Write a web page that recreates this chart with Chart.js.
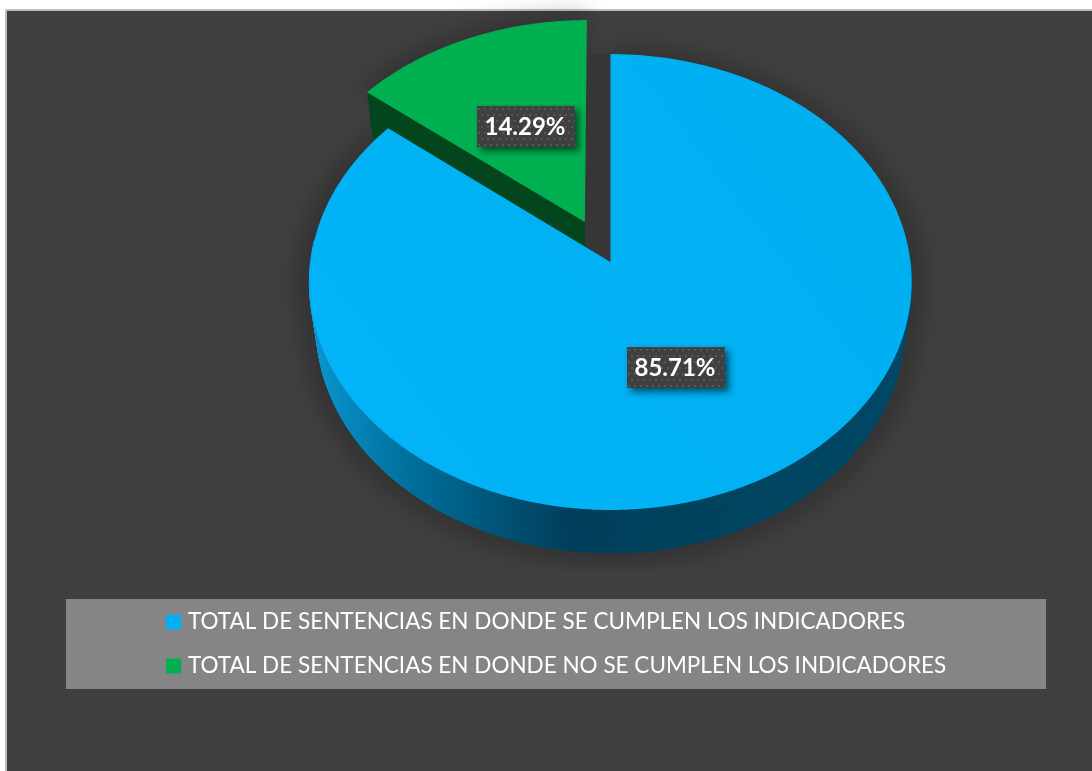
<!DOCTYPE html>
<html><head><meta charset="utf-8">
<style>
html,body{margin:0;padding:0;background:#fff;width:1092px;height:771px;overflow:hidden}
#panel{position:absolute;left:5px;top:9px;right:0;bottom:0;background:#404040;border-left:2px solid #bdbdbd;border-top:2px solid #bdbdbd}
#wrap{position:absolute;left:0;top:0;width:1092px;height:771px}
</style>
<script src="https://cdn.jsdelivr.net/npm/chart.js@4"></script>
</head><body>
<div id="panel"></div>
<div id="wrap"><canvas id="c" width="1092" height="771"></canvas></div>
<script>
const categories = [
  "TOTAL DE SENTENCIAS EN DONDE SE CUMPLEN LOS INDICADORES",
  "TOTAL DE SENTENCIAS EN DONDE NO SE CUMPLEN LOS INDICADORES"
];
const values = [85.71, 14.29];
const sliceColors = ["#00B0F0", "#00B050"];
const explode = [0, 0.2];
const labelRadius = [0.497, 0.5];
const labelNudge = [[-2,0],[2,0]];

// Camera of the tilted pie: unit-circle point (u,v) at height t (0 top, 1 bottom)
const TOP = {R:300, kx:-0.0877, a:226.2, k:-0.0877, Y:262};
const BOT = {R:293, kx:-0.0877, a:224.7, k:-0.0877, Y:306.7};
const CX = 610.5;
function project(u, v, t){
  const c = t ? BOT : TOP;
  return [CX + c.R*u/(1 + c.kx*v), c.Y + c.a*v/(1 + c.k*v)];
}
function rim(s, e, ox, oy, t, scale){
  const n = Math.max(4, Math.ceil(Math.abs(e-s)/(Math.PI/360))), pts = [];
  for (let i=0;i<=n;i++){
    const a = s + (e-s)*i/n;
    pts.push(project(ox + (scale||1)*Math.cos(a), oy + (scale||1)*Math.sin(a), t));
  }
  return pts;
}
function poly(ctx, pts){
  ctx.beginPath();
  pts.forEach((p,i)=> i ? ctx.lineTo(p[0],p[1]) : ctx.moveTo(p[0],p[1]));
  ctx.closePath();
}
function sliceGeom(chart){
  return chart.getDatasetMeta(0).data.map((el,i)=>{
    const mid = (el.startAngle+el.endAngle)/2;
    return {i, s:el.startAngle, e:el.endAngle, mid,
      ox:explode[i]*Math.cos(mid), oy:explode[i]*Math.sin(mid)};
  });
}
function dotPattern(ctx){
  const t = document.createElement('canvas'); t.width = 12; t.height = 12;
  const g = t.getContext('2d');
  g.fillStyle = '#404040'; g.fillRect(0,0,12,12);
  g.fillStyle = '#575757';
  [[1,2],[7,2],[4,8],[10,8]].forEach(p=>g.fillRect(p[0],p[1],2,2));
  return ctx.createPattern(t,'repeat');
}

const pie3d = {
  id:'pie3d',
  beforeDraw(chart){
    const ctx = chart.ctx;
    ctx.save();
    ctx.fillStyle = '#858585';
    ctx.fillRect(66,599,980,90);
    ctx.restore();
  },
  afterLayout(chart){
    const lg = chart.legend;
    const pad = lg.options.labels.padding;
    lg.left = 170.45 - pad;
    lg.top = 610.75 - pad;
  },
  beforeDatasetsDraw(chart){
    const ctx = chart.ctx, geo = sliceGeom(chart);
    // soft shadow under the pie
    const off = document.createElement('canvas'); off.width = 1092; off.height = 771;
    const o = off.getContext('2d'); o.fillStyle = '#000';
    geo.forEach(g=>{
      [0,1].forEach(t=>{
        if (g.i === 1 && t === 1) return;
        const pts = rim(g.s,g.e,g.ox,g.oy,t,1.05);
        pts.push(project(g.ox,g.oy,t));
        poly(o,pts); o.fill();
      });
    });
    ctx.save();
    ctx.beginPath(); ctx.rect(0,0,1092,569); ctx.clip();
    ctx.filter = 'blur(11px)'; ctx.globalAlpha = 0.2;
    ctx.drawImage(off,0,0);
    ctx.restore();
    // shadow visible in the gap left by the detached slice
    const d = geo[1];
    ctx.fillStyle = '#363636';
    poly(ctx,[[project(d.ox,-1+d.oy,0)[0]-1,55],project(0,-1,0),project(0,0,0),project(d.ox,d.oy,1)]);
    ctx.fill();
    // slices, back to front
    const side = ctx.createLinearGradient(310,0,911,0);
    side.addColorStop(0,'#0a98d4');
    side.addColorStop(0.16,'#00719f');
    side.addColorStop(0.28,'#005a80');
    side.addColorStop(0.43,'#003f5c');
    side.addColorStop(0.7,'#00445f');
    side.addColorStop(1,'#004866');
    const faces = [
      {side:side, top:(()=>{const t=ctx.createLinearGradient(330,500,880,80);t.addColorStop(0,'#02B4F8');t.addColorStop(1,'#00AFF0');return t;})()},
      {side:'#03461E', top:sliceColors[1]}
    ];
    geo.slice().reverse().forEach(g=>{
      const f = faces[g.i];
      ctx.fillStyle = f.side; ctx.strokeStyle = f.side; ctx.lineWidth = 0.8;
      const a = rim(g.s,g.e,g.ox,g.oy,0), b = rim(g.s,g.e,g.ox,g.oy,1);
      for (let j=0;j<a.length-1;j++){
        const am = g.s+(g.e-g.s)*(j+.5)/(a.length-1);
        if (g.oy+Math.sin(am) < -0.1) continue;
        poly(ctx,[a[j],a[j+1],b[j+1],b[j]]); ctx.fill(); ctx.stroke();
      }
      // cut face of the detached slice
      if (g.oy < 0){
        poly(ctx,[project(g.ox,g.oy,0),a[0],b[0],project(g.ox,g.oy,1)]);
        ctx.fill();
      }
      const top = rim(g.s,g.e,g.ox,g.oy,0);
      top.push(project(g.ox,g.oy,0));
      poly(ctx,top); ctx.fillStyle = f.top; ctx.fill();
    });
    return false;
  },
  afterDraw(chart){
    const ctx = chart.ctx, geo = sliceGeom(chart);
    const pat = dotPattern(ctx);
    geo.forEach(g=>{
      const r = labelRadius[g.i];
      const p = project(g.ox + r*Math.cos(g.mid), g.oy + r*Math.sin(g.mid), 0);
      const w = 98, h = 41;
      const x = Math.round(p[0]-w/2+labelNudge[g.i][0]), y = Math.round(p[1]-h/2+labelNudge[g.i][1]);
      ctx.save();
      ctx.shadowColor = 'rgba(0,0,0,0.55)'; ctx.shadowBlur = 7;
      ctx.shadowOffsetX = 4; ctx.shadowOffsetY = 4;
      ctx.fillStyle = '#404040'; ctx.fillRect(x,y,w,h);
      ctx.restore();
      ctx.save();
      ctx.translate(x,y);
      ctx.fillStyle = pat; ctx.fillRect(0,0,w,h);
      ctx.restore();
      ctx.save();
      ctx.font = 'bold 24px Lato';
      ctx.textAlign = 'center'; ctx.textBaseline = 'middle';
      ctx.fillStyle = '#fff';
      ctx.fillText(values[g.i].toFixed(2)+'%', x+w/2-1, y+h/2+1);
      ctx.restore();
    });
  }
};

new Chart(document.getElementById('c'),{
  type:'pie',
  data:{labels:categories,datasets:[{data:values,backgroundColor:sliceColors,borderWidth:0,offset:[0,40]}]},
  options:{
    responsive:false,animation:false,rotation:0,
    layout:{padding:0},
    plugins:{
      tooltip:{enabled:false},
      title:{display:false},
      legend:{
        display:true,position:'bottom',align:'start',
        labels:{color:'#ffffff',font:{family:'Lato',size:22.5},padding:21.5,boxWidth:6.3,boxHeight:15,usePointStyle:true,pointStyle:'rect'}
      }
    }
  },
  plugins:[pie3d]
});
</script>
</body></html>
